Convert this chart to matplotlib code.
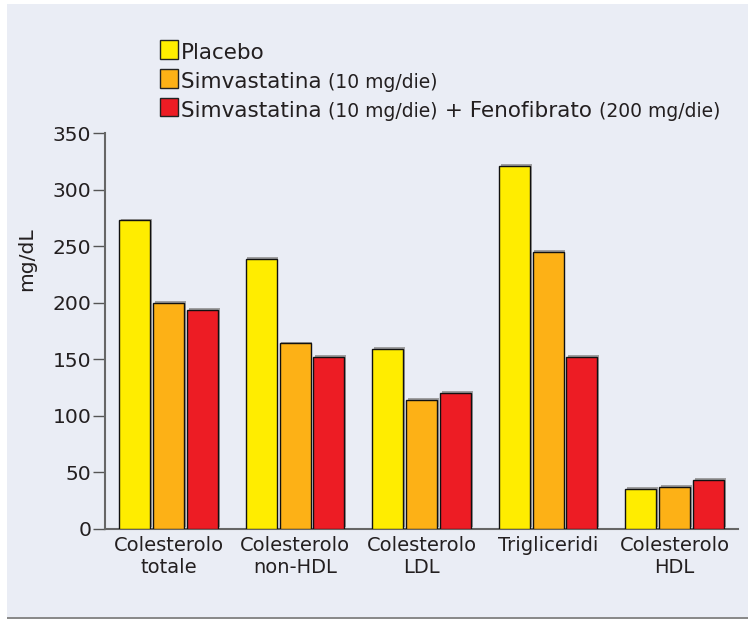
import matplotlib
matplotlib.use("Agg")
import matplotlib.pyplot as plt
import matplotlib.patheffects as pe
import matplotlib.transforms as mtransforms
from matplotlib.patches import Rectangle
import numpy as np

plt.rcParams["font.family"] = ["DejaVu Sans"]

categories = ["Colesterolo\ntotale", "Colesterolo\nnon-HDL", "Colesterolo\nLDL",
              "Trigliceridi", "Colesterolo\nHDL"]
placebo = [273, 239, 159, 321, 35]
simva = [200, 164, 114, 245, 37]
simva_feno = [194, 152, 120, 152, 43]
yticks = [0, 50, 100, 150, 200, 250, 300, 350]

series = [placebo, simva, simva_feno]
colors = ["#FFED00", "#FDB116", "#ED1C24"]
legend_rows = [
    [("Placebo", 15.5)],
    [("Simvastatina ", 15.5), ("(10 mg/die)", 13.5)],
    [("Simvastatina ", 15.5), ("(10 mg/die)", 13.5), (" + Fenofibrato ", 15.5), ("(200 mg/die)", 13.5)],
]

W, H = 748, 621
bg = "#EAEDF5"
txt = "#231F20"

fig = plt.figure(figsize=(W / 100, H / 100), dpi=100)
fig.patch.set_facecolor("white")

# panel background and bottom rule
fig.patches.append(Rectangle((7 / W, 3 / H), 1 - 7 / W, 1 - 7 / H, transform=fig.transFigure,
                             facecolor=bg, edgecolor="none", zorder=-10))
fig.patches.append(Rectangle((7 / W, 2 / H), 1 - 7 / W, 1.6 / H, transform=fig.transFigure,
                             facecolor="#8A8A8A", edgecolor="none", zorder=-9))

ax = fig.add_axes([105.3 / W, 1 - 528.7 / H, (738 - 105.3) / W, (528.7 - 133.3) / H])
ax.set_facecolor("none")

x = np.arange(len(categories))
offsets = [-0.267, 0.0, 0.267]
width = 0.245
shadow = [pe.SimplePatchShadow(offset=(1.2, 1.2), shadow_rgbFace="#8C8C8C", alpha=0.8), pe.Normal()]
for vals, off, col in zip(series, offsets, colors):
    ax.bar(x + off, vals, width=width, color=col, edgecolor="#111111", linewidth=1.0,
           path_effects=shadow, zorder=3)

ax.set_xlim(-0.5, 4.5)
ax.set_ylim(0, 350)
ax.set_yticks(yticks)
ax.set_yticklabels([str(v) for v in yticks], fontsize=14.6, color=txt)
ax.set_xticks(x)
ax.set_xticklabels(categories, fontsize=14, color=txt, linespacing=1.2)
ax.tick_params(axis="y", length=8.5, width=1.0, color="#555555", pad=1.5, direction="out")
ax.tick_params(axis="x", length=0, pad=5)
for s in ["top", "right"]:
    ax.spines[s].set_visible(False)
for s in ["left", "bottom"]:
    ax.spines[s].set_color("#666666")
    ax.spines[s].set_linewidth(1.5)

fig.text(27 / W, 1 - 259 / H, "mg/dL", rotation=90, ha="center", va="center",
         fontsize=14.6, color=txt)

# legend: colour squares followed by mixed-size labels on a shared baseline
fig.canvas.draw()
renderer = fig.canvas.get_renderer()
px_x = mtransforms.blended_transform_factory(mtransforms.IdentityTransform(), fig.transFigure)
baselines = [59, 88, 117]
for row, col, base in zip(legend_rows, colors, baselines):
    fig.patches.append(Rectangle((160 / W, 1 - (base - 0.5) / H), 18 / W, 18 / H,
                                 transform=fig.transFigure, facecolor=col,
                                 edgecolor="#222222", linewidth=1.0, zorder=5))
    cur_x = 181.0
    for text, size in row:
        t = fig.text(cur_x, 1 - base / H, text, fontsize=size, color=txt,
                     ha="left", va="baseline", transform=px_x)
        cur_x = t.get_window_extent(renderer).x1

fig.savefig("out.png", dpi=100, facecolor=fig.get_facecolor())
